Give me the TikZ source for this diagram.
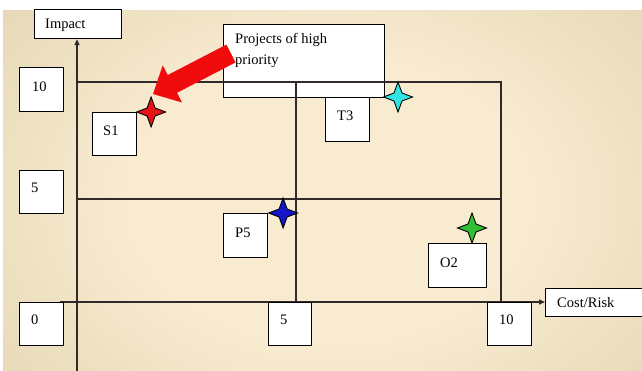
\documentclass[tikz,border=0pt]{standalone}
\usepackage{fontspec}
\setmainfont{Liberation Serif}
\usetikzlibrary{calc,arrows.meta}

\definecolor{bgcream}{RGB}{248,235,208}
\definecolor{bgtan}{RGB}{210,196,156}
\definecolor{gridline}{RGB}{50,42,42}
\definecolor{arrowred}{RGB}{240,12,12}
\definecolor{starred}{RGB}{228,20,20}
\definecolor{starcyan}{RGB}{50,228,228}
\definecolor{starblue}{RGB}{20,20,200}
\definecolor{stargreen}{RGB}{50,190,50}

\pgfdeclareradialshading{paper}{\pgfpoint{0bp}{0bp}}{color(0bp)=(bgcream); color(12bp)=(bgcream); color(40bp)=(bgtan); color(50bp)=(bgtan)}

\tikzset{
  pics/spark/.style={code={
    \draw[line width=0.9pt, fill=#1]
      (0,-15) -- (4,-4) -- (14.5,0) -- (4,4) -- (0,15)
      -- (-4,4) -- (-14.5,0) -- (-4,-4) -- cycle;}}
}

\begin{document}
\begin{tikzpicture}[x=1pt,y=-1pt,
  font=\fontsize{14.5}{21}\selectfont,
  box/.style={draw=black, line width=1.1pt, fill=white, rectangle,
    inner sep=0pt, anchor=north west},
  gridln/.style={draw=gridline, line width=1.4pt},
  axis/.style={gridln, -{Triangle[length=6pt,width=5pt]}},
  txt/.style={anchor=base west, inner sep=0pt}]

  % canvas
  \useasboundingbox (0,0) rectangle (642,370);
  \fill[white] (0,0) rectangle (642,370);
  \begin{scope}
    \clip (3,10) rectangle (642,370);
    \shade[shading=paper] (-90,-100) rectangle (750,500);
  \end{scope}

  % callout box behind the grid
  \node[box, minimum width=161pt, minimum height=73pt] (proj) at (223,24) {};
  \node[anchor=north west, inner sep=0pt, align=left] (projtxt)
    at ($(proj.north west)+(12,9)$) {Projects of high\\priority};

  % quadrant grid
  \coordinate (gtl) at (77,82);
  \coordinate (gtr) at (501,82);
  \coordinate (gml) at (77,199);
  \coordinate (gmr) at (501,199);
  \coordinate (gtc) at (296,82);
  \coordinate (gbc) at (296,302);
  \coordinate (gbr) at (501,302);
  \draw[gridln] (gtl) -- (gtr) -- (gbr);
  \draw[gridln] (gml) -- (gmr);
  \draw[gridln] (gtc) -- (gbc);

  % axis titles
  \node[box, minimum width=87pt, minimum height=29pt] (impact) at (34,9) {};
  \node[txt] at ($(impact.north west)+(11,19)$) {Impact};
  \node[box, minimum width=100pt, minimum height=28pt] (cost) at (545,288) {};
  \node[txt] at ($(cost.north west)+(12,19)$) {Cost/Risk};

  % axes
  \coordinate (yfoot) at (77,372);
  \coordinate (xfoot) at (60,302);
  \draw[axis] (yfoot) -- (yfoot |- impact.south);
  \draw[axis] (xfoot) -- (xfoot -| cost.west);

  % scale labels
  \node[box, minimum width=44pt, minimum height=44pt] (ytop) at (19,67) {};
  \node[txt] at ($(ytop.north west)+(13,24)$) {10};
  \node[box, minimum width=44pt, minimum height=43pt] (ymid) at (19,170) {};
  \node[txt] at ($(ymid.north west)+(12,22)$) {5};
  \node[box, minimum width=44pt, minimum height=43pt] (origin) at (19,302) {};
  \node[txt] at ($(origin.north west)+(12,22)$) {0};
  \node[box, minimum width=43pt, minimum height=43pt] (xmid) at (268,302) {};
  \node[txt] at ($(xmid.north west)+(12,22)$) {5};
  \node[box, minimum width=44pt, minimum height=43pt] (xtop) at (487,302) {};
  \node[txt] at ($(xtop.north west)+(12,22)$) {10};

  % projects
  \node[box, minimum width=44pt, minimum height=43pt] (s1) at (92,112) {};
  \node[txt] at ($(s1.north west)+(11,23)$) {S1};
  \node[box, minimum width=44pt, minimum height=44pt] (t3) at (325,97) {};
  \node[txt] at ($(t3.north west)+(12,23)$) {T3};
  \node[box, minimum width=44pt, minimum height=44pt] (p5) at (223,213) {};
  \node[txt] at ($(p5.north west)+(12,24)$) {P5};
  \node[box, minimum width=58pt, minimum height=44pt] (o2) at (428,243) {};
  \node[txt] at ($(o2.north west)+(12,24)$) {O2};

  % project markers
  \pic at (s1.north east) [xshift=14pt] {spark=starred};
  \pic at (398,97) {spark=starcyan};
  \pic at (p5.north east) [xshift=15pt] {spark=starblue};
  \pic at (472,228) {spark=stargreen};

  % block arrow pointing at the high-priority corner
  \fill[arrowred] (226.4,44.6) -- (167.8,75.0) -- (162.7,65.3) -- (153,94)
    -- (182.1,102.5) -- (177.0,92.8) -- (235.6,62.4) -- cycle;
\end{tikzpicture}
\end{document}
